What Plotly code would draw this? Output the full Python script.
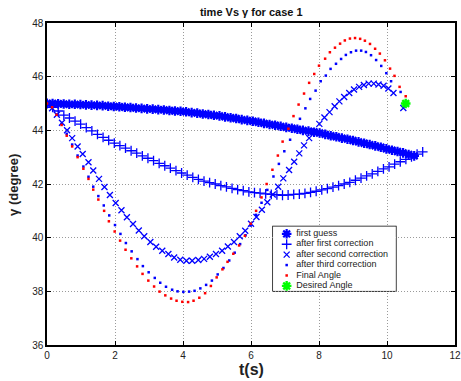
import plotly.graph_objects as go

# ---------------- data ----------------
# first guess: uniform time grid 0 .. 10.8 s
fg_t_end = 10.8
fg_gamma = [45.00, 45.00, 44.99, 44.98, 44.97, 44.97, 44.96, 44.95, 44.94, 44.93,
            44.92, 44.90, 44.89, 44.88, 44.86, 44.85, 44.83, 44.82, 44.80, 44.79,
            44.77, 44.76, 44.74, 44.72, 44.71, 44.69, 44.66, 44.64, 44.61, 44.59,
            44.56, 44.54, 44.50, 44.47, 44.44, 44.40, 44.37, 44.34, 44.30, 44.26,
            44.22, 44.19, 44.15, 44.11, 44.08, 44.04, 44.00, 43.97, 43.93, 43.90,
            43.85, 43.80, 43.76, 43.71, 43.67, 43.62, 43.57, 43.52, 43.47, 43.42,
            43.37, 43.31, 43.26, 43.21, 43.16, 43.10, 43.05]

# after first correction: uniform time grid 0 .. 11.05 s
c1_t_end = 11.05
c1_gamma = [45.00, 44.86, 44.72, 44.57, 44.46, 44.34, 44.23, 44.10, 43.98, 43.85,
            43.74, 43.63, 43.52, 43.43, 43.34, 43.24, 43.15, 43.05, 42.96, 42.87,
            42.77, 42.68, 42.59, 42.50, 42.41, 42.33, 42.25, 42.17, 42.11, 42.05,
            42.00, 41.94, 41.89, 41.84, 41.79, 41.75, 41.71, 41.68, 41.66, 41.63,
            41.61, 41.60, 41.58, 41.59, 41.61, 41.62, 41.65, 41.69, 41.73, 41.78,
            41.83, 41.88, 41.94, 42.00, 42.06, 42.14, 42.22, 42.30, 42.38, 42.47,
            42.56, 42.64, 42.74, 42.83, 42.92, 43.01, 43.11, 43.20]

# after second correction
c2_t = [0.00, 0.15, 0.29, 0.44, 0.59, 0.74, 0.90, 1.05, 1.22, 1.36,
        1.53, 1.69, 1.85, 2.02, 2.19, 2.35, 2.53, 2.70, 2.86, 3.04,
        3.21, 3.39, 3.57, 3.74, 3.92, 4.10, 4.27, 4.45, 4.62, 4.79,
        4.97, 5.15, 5.32, 5.50, 5.67, 5.83, 6.00, 6.16, 6.32, 6.48,
        6.64, 6.80, 6.95, 7.12, 7.27, 7.42, 7.56, 7.71, 7.86, 8.01,
        8.16, 8.31, 8.46, 8.60, 8.74, 8.89, 9.03, 9.18, 9.32, 9.46,
        9.61, 9.75, 9.90, 10.04, 10.19, 10.48]
c2_gamma = [45.00, 44.82, 44.58, 44.28, 44.00, 43.71, 43.40, 43.12, 42.81, 42.50,
            42.19, 41.89, 41.59, 41.29, 41.02, 40.76, 40.51, 40.27, 40.05, 39.84,
            39.66, 39.51, 39.39, 39.26, 39.18, 39.14, 39.14, 39.17, 39.21, 39.29,
            39.39, 39.51, 39.67, 39.84, 40.05, 40.26, 40.52, 40.77, 41.04, 41.32,
            41.61, 41.90, 42.21, 42.52, 42.83, 43.14, 43.44, 43.71, 43.98, 44.24,
            44.48, 44.68, 44.90, 45.08, 45.24, 45.39, 45.52, 45.62, 45.69, 45.74,
            45.74, 45.71, 45.66, 45.56, 45.39, 44.83]

# after third correction
c3_t = [0.00, 0.15, 0.29, 0.43, 0.58, 0.74, 0.90, 1.07, 1.22, 1.36,
        1.51, 1.67, 1.83, 2.00, 2.16, 2.32, 2.49, 2.66, 2.82, 2.99,
        3.17, 3.33, 3.50, 3.68, 3.84, 4.01, 4.18, 4.34, 4.51, 4.68,
        4.85, 5.02, 5.19, 5.36, 5.52, 5.68, 5.84, 5.99, 6.15, 6.31,
        6.48, 6.66, 6.82, 6.98, 7.15, 7.29, 7.44, 7.60, 7.74, 7.90,
        8.05, 8.20, 8.34, 8.50, 8.65, 8.79, 8.94, 9.09, 9.24, 9.38,
        9.53, 9.68, 9.83, 9.98, 10.12, 10.40]
c3_gamma = [45.00, 44.86, 44.58, 44.24, 43.87, 43.47, 43.06, 42.65, 42.27, 41.90,
            41.55, 41.20, 40.83, 40.47, 40.14, 39.80, 39.49, 39.20, 38.94, 38.71,
            38.50, 38.32, 38.17, 38.06, 38.00, 37.98, 37.99, 38.02, 38.11, 38.24,
            38.40, 38.63, 38.87, 39.15, 39.44, 39.76, 40.09, 40.45, 40.85, 41.30,
            41.78, 42.28, 42.75, 43.22, 43.65, 44.05, 44.43, 44.82, 45.17, 45.48,
            45.83, 46.04, 46.29, 46.48, 46.66, 46.81, 46.91, 46.97, 46.97, 46.92,
            46.80, 46.62, 46.40, 46.13, 45.83, 45.43]

# final angle
fa_t = [0.00, 0.15, 0.28, 0.43, 0.58, 0.74, 0.90, 1.07, 1.22, 1.36,
        1.51, 1.68, 1.82, 1.99, 2.15, 2.31, 2.48, 2.65, 2.81, 2.98,
        3.15, 3.31, 3.48, 3.65, 3.81, 3.98, 4.15, 4.31, 4.48, 4.65,
        4.82, 4.99, 5.16, 5.31, 5.48, 5.65, 5.82, 5.99, 6.15, 6.31,
        6.46, 6.63, 6.79, 6.93, 7.10, 7.25, 7.40, 7.56, 7.71, 7.86,
        8.00, 8.18, 8.32, 8.47, 8.62, 8.76, 8.91, 9.06, 9.21, 9.35,
        9.50, 9.65, 9.79, 9.94, 10.09, 10.22, 10.37, 10.55]
fa_gamma = [45.00, 44.86, 44.58, 44.20, 43.80, 43.40, 43.00, 42.57, 42.19, 41.79,
            41.42, 41.00, 40.61, 40.23, 39.89, 39.55, 39.23, 38.93, 38.65, 38.40,
            38.18, 37.99, 37.85, 37.73, 37.65, 37.61, 37.60, 37.65, 37.76, 37.93,
            38.20, 38.52, 38.82, 39.10, 39.40, 39.71, 40.07, 40.52, 41.00, 41.50,
            42.00, 42.53, 43.06, 43.58, 44.06, 44.53, 44.96, 45.37, 45.77, 46.10,
            46.41, 46.67, 46.91, 47.08, 47.23, 47.35, 47.42, 47.44, 47.41, 47.34,
            47.22, 47.04, 46.86, 46.61, 46.30, 46.03, 45.62, 45.27]

# desired angle
desired_t = [10.55]
desired_gamma = [45.0]

x_ticks = [0, 2, 4, 6, 8, 10, 12]
y_ticks = [36, 38, 40, 42, 44, 46, 48]

legend_labels = ["first guess", "after first correction", "after second correction",
                 "after third correction", "Final Angle", "Desired Angle"]
legend_rows = [5, 4, 3, 2, 1, 0]   # top to bottom


def uniform(t_end, n):
    return [t_end * i / (n - 1) for i in range(n)]


W, H = 461, 381
BLUE = "#0000FF"
RED = "#FF0000"
GREEN = "#00FF00"
FONT = "Liberation Sans, Arial, Helvetica, sans-serif"
TXT = "#222222"

styles = [
    dict(symbol="asterisk-open", size=8, color=BLUE, line=dict(color=BLUE, width=2.2)),
    dict(symbol="cross-thin-open", size=7, color=BLUE, line=dict(color=BLUE, width=1.3)),
    dict(symbol="x-thin-open", size=6, color=BLUE, line=dict(color=BLUE, width=1.3)),
    dict(symbol="square", size=2.5, color=BLUE, line=dict(width=0)),
    dict(symbol="square", size=2.5, color=RED, line=dict(width=0)),
    dict(symbol="asterisk-open", size=8, color=GREEN, line=dict(color=GREEN, width=2.4)),
]
series = [
    (uniform(fg_t_end, len(fg_gamma)), fg_gamma),
    (uniform(c1_t_end, len(c1_gamma)), c1_gamma),
    (c2_t, c2_gamma),
    (c3_t, c3_gamma),
    (fa_t, fa_gamma),
    (desired_t, desired_gamma),
]

fig = go.Figure()
for (xs, ys), st, lab in zip(series, styles, legend_labels):
    fig.add_trace(go.Scatter(x=xs, y=ys, mode="markers", name=lab, marker=st,
                             xaxis="x", yaxis="y", hoverinfo="skip"))

# legend (MATLAB style): a small hidden pair of axes sits inside the legend box
lx0, lx1, ly0, ly1 = 0.554, 0.855, 0.168, 0.368
for st, lab, row in zip(styles, legend_labels, legend_rows):
    fig.add_trace(go.Scatter(x=[0.111], y=[row], mode="markers", name=lab, marker=st,
                             xaxis="x2", yaxis="y2", hoverinfo="skip", cliponaxis=False))
fig.add_trace(go.Scatter(x=[0.19] * len(legend_labels), y=legend_rows, mode="text",
                         text=legend_labels, textposition="middle right",
                         textfont=dict(family=FONT, size=9, color=TXT),
                         xaxis="x2", yaxis="y2", hoverinfo="skip", cliponaxis=False,
                         name="legend text"))

axis_common = dict(
    showline=True, linecolor="black", linewidth=1.5, mirror="ticks",
    ticks="inside", ticklen=4, tickcolor="black",
    showgrid=True, gridcolor="#9a9a9a", griddash="1px,2px", gridwidth=1,
    zeroline=False, tickfont=dict(family=FONT, size=10, color=TXT),
    automargin=False,
)

fig.update_layout(
    xaxis=dict(range=[0, 12], tickvals=x_ticks, domain=[0, 1], **axis_common),
    yaxis=dict(range=[36, 48], tickvals=y_ticks, domain=[0, 1], **axis_common),
    xaxis2=dict(domain=[lx0, lx1], range=[0, 1], anchor="y2", visible=False, fixedrange=True),
    yaxis2=dict(domain=[ly0, ly1], range=[-0.481, 5.702], anchor="x2", visible=False, fixedrange=True),
)

shapes = [dict(type="rect", xref="paper", yref="paper", x0=lx0, x1=lx1, y0=ly0, y1=ly1,
               line=dict(color="black", width=1.5), fillcolor="white", layer="between")]

annotations = [
    dict(xref="paper", yref="paper", x=0.5, y=-0.075, text="<b>t(s)</b>",
         showarrow=False, xanchor="center", yanchor="middle",
         font=dict(family=FONT, size=16, color=TXT)),
    dict(xref="paper", yref="paper", x=-0.081, y=0.497, text="<b>γ (degree)</b>",
         showarrow=False, xanchor="center", yanchor="middle", textangle=-90,
         font=dict(family=FONT, size=13, color=TXT)),
]

fig.update_layout(
    width=W, height=H, autosize=False,
    margin=dict(l=47, r=6, t=23, b=36),
    paper_bgcolor="white", plot_bgcolor="white",
    title=dict(text="<b>time Vs γ for case 1</b>", x=0.545, xanchor="center", y=0.968, yanchor="middle",
               font=dict(family=FONT, size=11, color="#111111")),
    showlegend=False,
    hovermode=False,
    shapes=shapes,
    annotations=annotations,
)

# remove the page's default 8px body margin so the figure sits at the window's corner
post = ("document.body.style.margin='0';document.body.style.overflow='hidden';"
        "var gd=document.getElementById('{plot_id}');"
        "Plotly.relayout(gd,{width:%d,height:%d});" % (W, H))

fig.write_html("out.html", post_script=post,
               config={"responsive": False, "displayModeBar": False})
